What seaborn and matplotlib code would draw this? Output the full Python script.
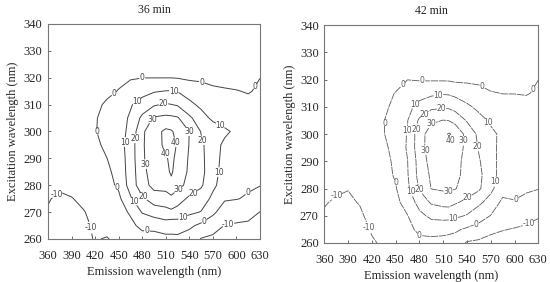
import numpy as np
import matplotlib
matplotlib.use("Agg")
import matplotlib.pyplot as plt
import seaborn as sns

# ---- data -------------------------------------------------------------
emission = [360, 375, 390, 405, 420, 435, 450, 465, 480, 495, 510, 517, 525,
            540, 555, 570, 585, 600, 615, 630]
excitation = [260, 265, 270, 275, 280, 285, 290, 295, 300, 305, 310, 315, 320, 330, 340]
levels = [-10, 0, 10, 20, 30, 40]
titles = ["36 min", "42 min"]
x_ticks = [360, 390, 420, 450, 480, 510, 540, 570, 600, 630]
y_ticks = [260, 270, 280, 290, 300, 310, 320, 330, 340]

# intensity rows (one list per excitation wavelength, bottom to top)
i36_260 = [-13, -14, -13, -12, -9.5, -10.5, -8, -5, -3.5, -4, -3, -1.8, -2.5, -5, -10.5, -12, -13, -13.5, -13.5, -14]
i36_265 = [-12, -12.5, -12, -11, -9.3, -7.5, -5, -2, 2.2, 3, 5.5, 3.2, 5, 2, -2.3, -5.9, -10.3, -10.5, -11, -12]
i36_270 = [-10.5, -11, -11, -10.4, -8, -5.5, -3, 1, 10.7, 14.4, 16.2, 18, 15.6, 12, 9.6, 1.9, -4.7, -8, -8, -10.1]
i36_275 = [-9.6, -11, -10.3, -8.5, -5.5, -3.5, -2, 8.7, 18.2, 25.1, 26.4, 27.3, 25.2, 17.8, 14.5, 8.1, 1, 0.5, -1.3, -4.5]
i36_280 = [-6, -9, -8, -6, -4.5, -3, 1.5, 14.1, 26, 33, 33, 37.8, 32.5, 27.6, 21.4, 11.8, 6, 3.5, 1.5, 0.3]
i36_285 = [-5, -5, -4.5, -4, -3, -2.5, 4.2, 14, 27.8, 33.6, 38, 41, 36.6, 28.3, 22.7, 13.8, 6, 5, 3.5, 2.5]
i36_290 = [-4.5, -4.5, -4, -3.5, -2, -0.1, 4.5, 14.5, 28.8, 34.5, 39.5, 41, 38.8, 28.7, 22.3, 14.1, 7, 5.5, 4, 3]
i36_295 = [-4.5, -4.5, -4, -3, -2, 2.1, 5.6, 14.8, 28.8, 35.7, 42, 41.5, 39.6, 29.6, 21.9, 14.1, 8, 6, 4.5, 3.5]
i36_300 = [-4, -4, -3.5, -2.5, -0.5, 3.1, 6, 12.5, 28.3, 36.3, 42, 41, 37.1, 29.9, 19.5, 15.6, 11.8, 8, 5.5, 4]
i36_305 = [-4, -4, -3.5, -2.5, -0.7, 2.9, 6.6, 11.1, 22.3, 31.1, 32.4, 32, 31, 22, 14, 8, 5.5, 4, 3, 2.5]
i36_310 = [-4, -4, -4, -3, -1.5, 1.0, 5.4, 9.2, 13.9, 18.9, 21, 20.2, 19, 12.4, 7.8, 5.2, 4.1, 3.5, 2, 2]
i36_315 = [-3.5, -3.5, -3.5, -3.5, -3, -1.5, 0.3, 4.2, 6.8, 9.2, 10.3, 10.4, 9.6, 5.7, 3.2, 1.5, 0.8, 0.3, -0.5, 1]
i36_320 = [-3.5, -3.5, -3.5, -3.5, -3, -2.5, -1.5, -0.8, -0.1, -0.1, -0.1, -0.1, -0.4, -1.4, -1.4, -2.25, -2.5, -2.7, -3, -0.05]
i36_330 = [-4] * 20
i36_340 = [-4] * 20

i42_260 = [-14, -15, -14, -13, -10.6, -9.2, -8.5, -6, -3, -3.5, -4, -4.5, -4.5, -11, -12, -13, -13.5, -14, -14, -14.5]
i42_265 = [-12, -13, -13, -12, -9.5, -8, -6, -3, 2.4, 4, 3.5, 2.8, 1.5, -1.4, -3.9, -8.1, -9.6, -10.5, -11, -12]
i42_270 = [-10.8, -11.5, -12, -11, -8, -6, -3.5, -0.3, 7.5, 12.2, 13.2, 13.2, 12, 9.3, 4.4, -0.3, -6, -5.7, -8.1, -9.5]
i42_275 = [-9.5, -10.8, -11, -9.6, -7, -4.5, -2.5, 4.2, 13.5, 21.4, 23.5, 23.8, 21.4, 17.5, 12, 6.5, -2.1, -0.5, -2.4, -4.5]
i42_280 = [-6, -9, -9.8, -8, -5, -4, -0.7, 8, 21, 30.3, 31.5, 31.5, 30.5, 26.1, 21.6, 12.2, 4, 2.5, 1.2, 0.3]
i42_285 = [-5, -5.5, -5, -4.5, -3.5, -3.5, 1.1, 9.3, 23.5, 31.5, 33, 33.5, 32.5, 27, 22.6, 13.3, 6.5, 4.5, 3, 2.5]
i42_290 = [-4.5, -5, -4.5, -4, -3, -3.5, 2.2, 9.8, 24.1, 33.5, 34, 34.5, 33, 27.2, 21, 12.9, 7, 5, 3.5, 3]
i42_295 = [-4.5, -4.5, -4, -3.5, -2.5, -2.2, 3.6, 11, 26, 35, 35.5, 37, 35, 27.7, 19.2, 12.4, 7.5, 5.5, 4, 3.5]
i42_300 = [-4, -4, -3.5, -3, -2, -0.4, 4.8, 10.5, 26, 34.5, 37.9, 40.6, 38.8, 26.3, 18, 12.1, 8, 6, 4.5, 4]
i42_305 = [-4, -4, -3.5, -3, -2, -0.3, 4.7, 9.7, 21.5, 28.4, 30.2, 29.8, 26.5, 19.2, 13.3, 8.5, 5, 4, 3, 3]
i42_310 = [-4, -4, -4, -3.5, -2.5, -2, 2.6, 7.2, 13.2, 17.7, 18.7, 18.3, 16.7, 11.8, 7.6, 4.3, 3.5, 3, 2.5, 2.5]
i42_315 = [-3.5, -3.5, -3.5, -3.5, -3, -1.5, 0.2, 4, 6, 7.8, 9, 8.8, 7.3, 4.8, 2.9, 0.6, -0.2, -0.2, -0.5, 1]
i42_320 = [-3.5, -3.5, -3.5, -3.5, -3.5, -3, -2, -0.1, -0.67, -0.87, -1, -1.1, -1.8, -1.7, -1.9, -3.7, -3, -3, -3, -0.05]
i42_330 = [-4] * 20
i42_340 = [-4] * 20

grid36 = np.array([i36_260, i36_265, i36_270, i36_275, i36_280, i36_285, i36_290, i36_295,
                   i36_300, i36_305, i36_310, i36_315, i36_320, i36_330, i36_340])
grid42 = np.array([i42_260, i42_265, i42_270, i42_275, i42_280, i42_285, i42_290, i42_295,
                   i42_300, i42_305, i42_310, i42_315, i42_320, i42_330, i42_340])

# where the contour labels sit (layout only)
labels36 = [(480, 320), (556, 318.5), (620, 317.5), (443, 314.5), (423, 300), (447, 279),
            (486, 263), (558, 267), (616, 276.6),
            (471.6, 311.7), (520.5, 315.2), (578, 301.5), (460, 296), (468, 273.7),
            (531.5, 268.3), (575, 285),
            (507, 310.4), (469.5, 297.5), (479, 275), (544, 277.4), (558, 296.8),
            (490, 305), (540, 300.2), (480.5, 287.7), (527, 277.9),
            (523, 296), (508, 291.6),
            (370, 277.3), (410, 264), (589, 266.5)]
labels42 = [(483.7, 319.6), (559.4, 317.6), (624.6, 316.2), (456.7, 318.6), (435.3, 304),
            (449, 282), (480, 262.7), (552, 266.7), (603.5, 275.3),
            (503.8, 314.6), (475, 310.6), (464.9, 301.2), (468.9, 278.7), (522.8, 268.9),
            (575.3, 282.6), (565.7, 304.2),
            (508, 309.3), (486, 307.4), (475, 301.8), (478.6, 279.3), (540.4, 276.7), (554, 295.4),
            (494, 304.2), (537.5, 297.5), (485.8, 294), (516.5, 278.6),
            (374.7, 277.7), (416.4, 265.7), (615.3, 268.3)]
peak_label42 = (519.5, 297.6)

# ---- style -------------------------------------------------------------
sns.set_theme(style="white")
plt.rcParams["font.family"] = ["Liberation Serif", "DejaVu Serif"]
plt.rcParams["xtick.direction"] = "in"
plt.rcParams["ytick.direction"] = "in"

fig = plt.figure(figsize=(5.5, 2.82), dpi=100)
boxes = [[0.0873, 0.1525, 0.3854, 0.7624], [0.5896, 0.1383, 0.3891, 0.7730]]
line_cols = ["#444444", "#5a5a5a"]
line_ws = [0.7, 0.6]
line_styles = ["solid", (0, (9, 1))]

for i, (box, grid, title, lpos) in enumerate(zip(boxes, [grid36, grid42], titles,
                                                 [labels36, labels42])):
    ax = fig.add_axes(box)
    cs = ax.contour(emission, excitation, grid, levels=levels,
                    colors=line_cols[i], linewidths=line_ws[i],
                    linestyles=[line_styles[i]])
    lbl = ax.clabel(cs, fmt="%d", fontsize=5.5, inline=True, inline_spacing=1,
                    manual=lpos)
    for t in lbl:
        t.set_family("DejaVu Sans")
        t.set_color(line_cols[i])
        t.set_rotation(0)
    if i == 1:
        ax.text(peak_label42[0], peak_label42[1], "%d" % levels[-1], fontsize=5.5,
                family="DejaVu Sans", color=line_cols[i], ha="center", va="center")
    ax.set_xlim(360, 630)
    ax.set_ylim(260, 340)
    ax.set_xticks(x_ticks)
    ax.set_yticks(y_ticks)
    ax.tick_params(axis="x", labelsize=9, length=2.5, width=0.6,
                   color="#555555", pad=8, bottom=True, top=False)
    ax.tick_params(axis="y", labelsize=9, length=2.5, width=0.6,
                   color="#555555", pad=4, left=True, right=False)
    for s in ax.spines.values():
        s.set_color("#777777")
        s.set_linewidth(0.8)
    ax.set_xlabel("Emission wavelength (nm)", fontsize=9, labelpad=3)
    ax.set_ylabel("Excitation wavelength (nm)", fontsize=9, labelpad=3)
    ax.set_title(title, fontsize=8.5, pad=8)

fig.savefig("out.png", dpi=100)
